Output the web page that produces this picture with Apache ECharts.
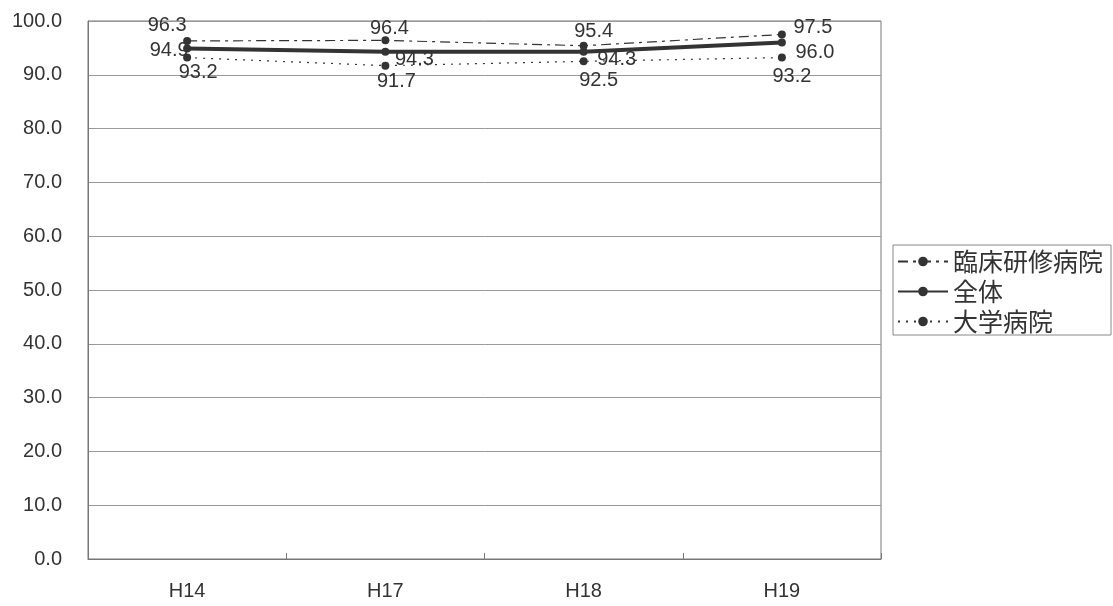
<!DOCTYPE html>
<html><head><meta charset="utf-8">
<script src="https://cdn.jsdelivr.net/npm/echarts@6/dist/echarts.min.js"></script>
<style>html,body{margin:0;padding:0;background:#fff}#c{width:1113px;height:606px}</style>
</head><body><div id="c"></div>
<script>
const categories = ['H14', 'H17', 'H18', 'H19'];
const seriesNames = ['臨床研修病院', '全体', '大学病院'];
const rinshoValues = [96.3, 96.4, 95.4, 97.5];
const zentaiValues = [94.9, 94.3, 94.3, 96.0];
const daigakuValues = [93.2, 91.7, 92.5, 93.2];
const yTicks = { min: 0, max: 100, interval: 10 };

// label offsets (layout only) relative to the marker centre
const rinshoOffsets = [[-20, -15], [4, -12], [10, -14], [31, -7]];
const zentaiOffsets = [[-18, 2], [29, 8], [33, 8], [33, 10]];
const daigakuOffsets = [[11, 15], [11, 16], [15, 19], [10, 19]];

const FONT = 'Liberation Sans, Arial, sans-serif';
const TXT = '#333';
const INK = '#333';

function mkData(vals, offs) {
  return vals.map((v, i) => ({
    value: v,
    label: { position: 'inside', offset: offs[i] }
  }));
}
const baseLabel = { show: true, color: TXT, fontSize: 20, fontFamily: FONT,
  formatter: p => p.value.toFixed(1) };

const chart = echarts.init(document.getElementById('c'), null, { renderer: 'canvas' });
chart.setOption({
  animation: false,
  backgroundColor: '#fff',
  grid: { left: 88, right: 232, top: 21, bottom: 47, show: true, borderColor: '#777', borderWidth: 1 },
  legend: {
    orient: 'vertical', left: 893, top: 245,
    data: seriesNames,
    itemWidth: 50, itemHeight: 12, itemGap: 5,
    padding: [4, 8, 1, 4],
    borderColor: '#888', borderWidth: 1,
    textStyle: { fontSize: 25, color: TXT, fontFamily: 'Noto Sans CJK JP' }
  },
  xAxis: {
    type: 'category', data: categories, boundaryGap: true,
    axisLine: { lineStyle: { color: '#777' } },
    axisTick: { show: true, inside: true, length: 6, lineStyle: { color: '#777' } },
    axisLabel: { fontSize: 20, color: TXT, fontFamily: FONT, margin: 22 }
  },
  yAxis: {
    type: 'value', min: yTicks.min, max: yTicks.max, interval: yTicks.interval,
    axisLine: { show: true, lineStyle: { color: '#777' } },
    axisTick: { show: false },
    splitLine: { lineStyle: { color: '#999', width: 1 } },
    axisLabel: { fontSize: 20, color: TXT, fontFamily: FONT, margin: 26,
      formatter: v => v.toFixed(1) }
  },
  series: [
    { name: seriesNames[0], type: 'line', data: mkData(rinshoValues, rinshoOffsets),
      symbol: 'circle', symbolSize: 8, color: INK,
      lineStyle: { color: INK, width: 1.2, type: [10, 5, 3, 5] },
      itemStyle: { color: INK }, label: baseLabel, z: 3 },
    { name: seriesNames[1], type: 'line', data: mkData(zentaiValues, zentaiOffsets),
      symbol: 'circle', symbolSize: 8, color: INK,
      lineStyle: { color: INK, width: 4, type: 'solid' },
      itemStyle: { color: INK }, label: baseLabel, z: 4 },
    { name: seriesNames[2], type: 'line', data: mkData(daigakuValues, daigakuOffsets),
      symbol: 'circle', symbolSize: 8, color: INK,
      lineStyle: { color: INK, width: 1.2, type: [2, 6] },
      itemStyle: { color: INK }, label: baseLabel, z: 2 }
  ]
});
</script></body></html>
